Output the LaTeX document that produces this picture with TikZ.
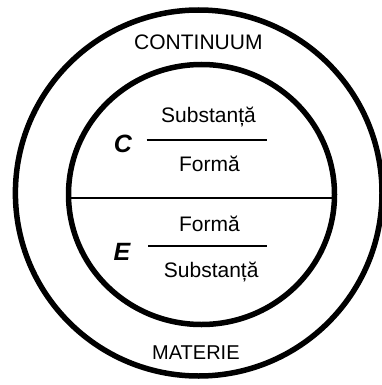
\documentclass[tikz,border=0pt]{standalone}
\usepackage{fontspec}
\setmainfont{Liberation Sans}

\begin{document}
\begin{tikzpicture}[x=1pt, y=-1pt,
    ring/.style={line width=5.5pt},
    bar/.style={line width=1.8pt},
    lbl/.style={font=\fontsize{21}{24}\selectfont, inner sep=0pt, anchor=base},
    sign/.style={font=\fontsize{25}{28}\selectfont\bfseries\itshape, inner sep=0pt}]
        \useasboundingbox (0,0) rectangle (382,385);
        % Outer and inner circles
        \draw[ring] (198.7,193) ellipse (183.3 and 183);
        \draw[ring] (201.5,194.5) ellipse (133 and 130);
        % Divider between the two halves
        \coordinate (divl) at (68.5,197.7);
        \coordinate (divr) at (334.5,197.7);
        \draw[bar] (divl) -- (divr);
        % Outer labels
        \node[lbl] (cont) at (198.4,49.3) {CONTINUUM};
        \node[lbl, font=\fontsize{20}{24}\selectfont] (mat) at (195.9,359.3) {MATERIE};
        % Upper half: C
        \node[sign] (c) at (123,144) {C};
        \node[lbl] (csub) at (208.5,122.3) {Substanță};
        \node[lbl] (cform) at (209.5,171) {Formă};
        \coordinate (cbl) at (146.7,140);
        \coordinate (cbr) at (266.7,140);
        \draw[bar] (cbl) -- (cbr);
        % Lower half: E
        \node[sign] (e) at (122,252.2) {E};
        \node[lbl] (eform) at (209.5,231.7) {Formă};
        \node[lbl] (esub) at (211.2,277.7) {Substanță};
        \coordinate (ebl) at (148,245.7);
        \coordinate (ebr) at (267,245.7);
        \draw[bar] (ebl) -- (ebr);
\end{tikzpicture}
\end{document}
